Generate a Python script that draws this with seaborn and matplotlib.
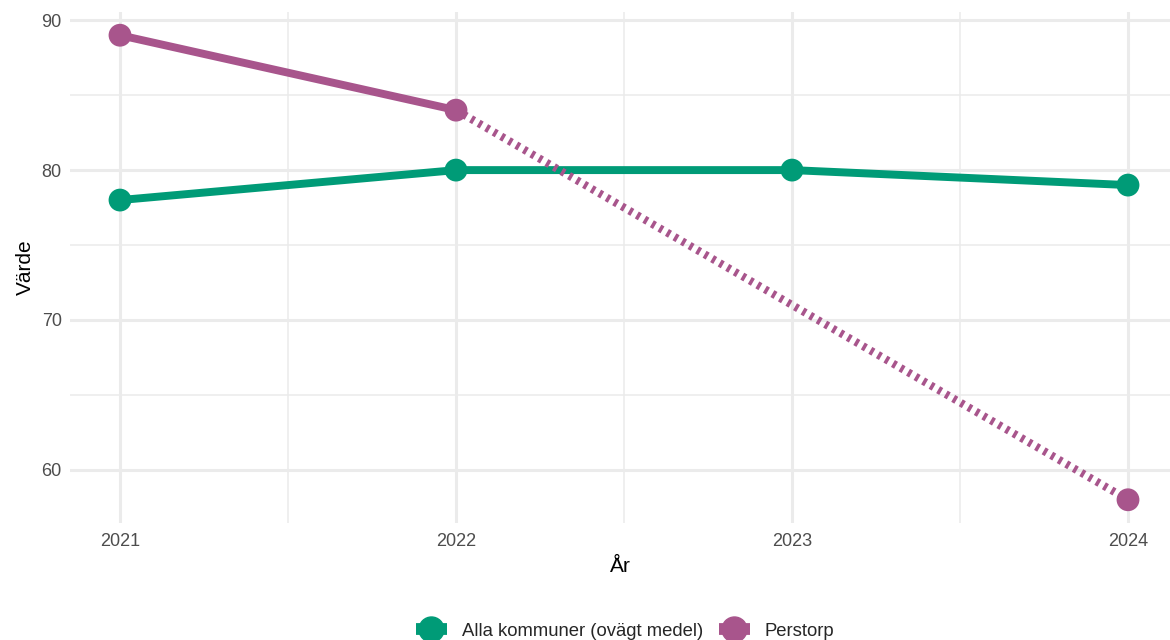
import matplotlib
matplotlib.use("Agg")
import matplotlib.pyplot as plt
from matplotlib.lines import Line2D
from matplotlib.ticker import MultipleLocator
import seaborn as sns
import numpy as np
import pandas as pd

years = [2021, 2022, 2023, 2024]
alla = [78, 80, 80, 79]
perstorp = [89, 84, np.nan, 58]
series_names = ["Alla kommuner (ovägt medel)", "Perstorp"]
colors = {"Alla kommuner (ovägt medel)": "#009B77", "Perstorp": "#A8558C"}

df = pd.DataFrame({
    "År": years * 2,
    "Värde": alla + perstorp,
    "serie": [series_names[0]] * 4 + [series_names[1]] * 4,
})

sns.set_theme(style="whitegrid")
plt.rcParams["font.family"] = ["Liberation Sans", "DejaVu Sans"]

fig = plt.figure(figsize=(11.7, 6.4), dpi=100)
ax = fig.add_axes([70 / 1170, 117 / 640, 1100 / 1170, 511 / 640])

# solid segments: only between consecutive observed years
solid = df.dropna()
for name in series_names:
    sub = df[df.serie == name].reset_index(drop=True)
    ok = sub["Värde"].notna()
    run = (ok & ok.shift(fill_value=False)) | (ok & ok.shift(-1, fill_value=False))
    seg = sub[run]
    if name == "Perstorp":
        seg = seg[seg["År"] <= 2022]
    sns.lineplot(data=seg, x="År", y="Värde", color=colors[name], lw=5.7, ax=ax,
                 solid_capstyle="butt", legend=False)

# dotted bridge over the missing year for Perstorp
gap = solid[(solid.serie == "Perstorp") & (solid["År"] >= 2022)]
sns.lineplot(data=gap, x="År", y="Värde", color=colors["Perstorp"], lw=5.7, ax=ax,
             linestyle=(0, (0.45, 0.65)), dash_capstyle="butt", legend=False)

sns.scatterplot(data=solid, x="År", y="Värde", hue="serie", palette=colors,
                s=270, edgecolor="none", ax=ax, legend=False, zorder=5)

ax.set_xlim(2021 - 50 / 336, 2024 + 42 / 336)
ax.set_ylim(56.45, 90.55)
ax.set_xticks(years)
ax.set_yticks([60, 70, 80, 90])
ax.xaxis.set_minor_locator(MultipleLocator(0.5))
ax.yaxis.set_minor_locator(MultipleLocator(5))
ax.grid(which="major", color="#EBEBEB", lw=2.2)
ax.grid(which="minor", color="#EBEBEB", lw=1.1)
ax.set_axisbelow(True)
for s in ax.spines.values():
    s.set_visible(False)
ax.tick_params(which="both", length=0, labelsize=13, labelcolor="#4D4D4D")
ax.tick_params(axis="x", pad=7)
ax.tick_params(axis="y", pad=6)
ax.set_xlabel("År", fontsize=15, color="black", labelpad=5)
ax.set_ylabel("Värde", fontsize=15, color="black", labelpad=5)

handles = [Line2D([], [], color=colors[n], lw=8.5, marker="o", markersize=18,
                  solid_capstyle="butt") for n in series_names]
fig.legend(handles, series_names, loc="center", bbox_to_anchor=(625 / 1170, 9 / 640), ncol=2,
           frameon=False, fontsize=13.3, handlelength=1.7, handletextpad=0.8,
           columnspacing=0.85)

fig.savefig("out.png", dpi=100)
